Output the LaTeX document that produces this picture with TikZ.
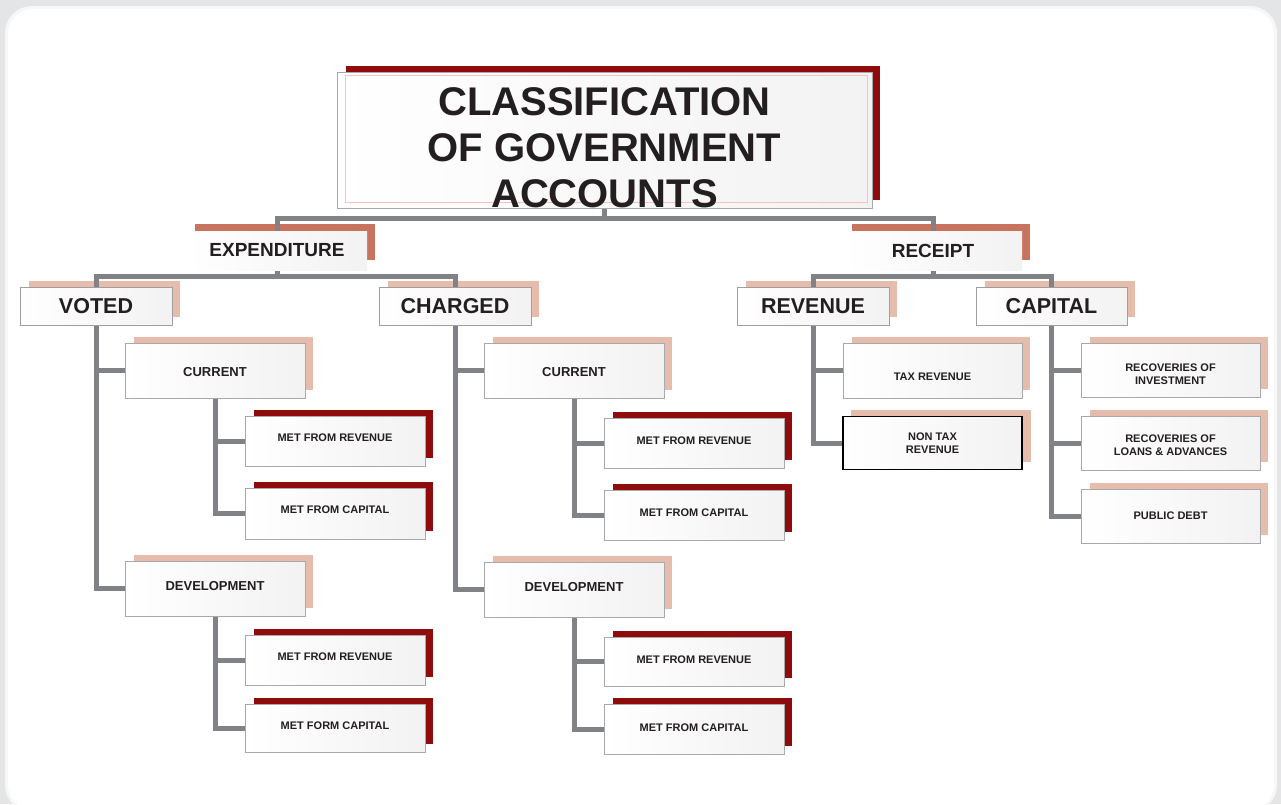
\documentclass[tikz,border=0pt]{standalone}
\usepackage{fontspec}
\setmainfont{Liberation Sans}
\usetikzlibrary{calc}
\pgfdeclarelayer{back}
\pgfdeclarelayer{shad}
\pgfdeclarelayer{lines}
\pgfsetlayers{back,shad,lines,main}
\definecolor{txt}{HTML}{231F20}
\definecolor{conncol}{HTML}{808285}
\definecolor{darkred}{HTML}{8E0C0C}
\definecolor{terra}{HTML}{C8735D}
\definecolor{salmon}{HTML}{E6BCAD}
\definecolor{boxline}{HTML}{A7A9AC}
\definecolor{outerbg}{HTML}{E4E5E6}
\newcommand\shadrect[2]{%
  \begin{pgfonlayer}{shad}
  \fill[#1] ([shift={(9,-6)}]#2.north west) rectangle ([shift={(8,-8)}]#2.south east);
  \end{pgfonlayer}}
\begin{document}
\begin{tikzpicture}[x=1pt,y=-1pt,
  every node/.style={text=txt,font=\bfseries,inner sep=0pt,align=center},
  box/.style={draw=boxline,line width=0.9pt,left color=white,right color=gray!10},
  titlebox/.style={box,minimum width=535pt,minimum height=136pt,text height=135pt,text depth=0pt,
     font=\fontsize{40}{46}\selectfont\bfseries,
     path picture={\draw[red!25,line width=0.6pt]
        ([shift={(8,3)}]path picture bounding box.north west) rectangle
        ([shift={(-5,-6)}]path picture bounding box.south east);}},
  headbox/.style={left color=white,right color=gray!10,minimum width=180pt,minimum height=39pt,
     font=\fontsize{19}{22}\selectfont\bfseries},
  lvtwo/.style={box,draw=gray!75,minimum width=152pt,minimum height=38pt,
     font=\fontsize{21.5}{24}\selectfont\bfseries},
  lvthree/.style={box,minimum width=180pt,minimum height=55pt,
     font=\fontsize{13}{15}\selectfont\bfseries},
  leaf/.style={box,minimum width=180pt,minimum height=50pt,
     font=\fontsize{11}{13}\selectfont\bfseries},
  metbox/.style={leaf,text depth=7pt},
  conn/.style={draw=conncol,line width=5pt}
]
\useasboundingbox (0,0) rectangle (1281,804);
\begin{pgfonlayer}{back}
\fill[outerbg] (0,0) rectangle (1281,804);
\fill[gray!6,rounded corners=27pt] (5,6) rectangle (1277,812);
\fill[white,rounded corners=25pt] (8,9) rectangle (1274,810);
\end{pgfonlayer}

% nodes
\node[titlebox] (title) at (604.5,140) {CLASSIFICATION\\OF GOVERNMENT\\ACCOUNTS};
\node[headbox] (exp) at (277,250.5) {EXPENDITURE};
\node[headbox,minimum width=178pt] (rec) at (933,250.5) {RECEIPT};

\node[lvtwo] (voted) at (96,306) {VOTED};
\node[lvtwo] (charged) at (455,306) {CHARGED};
\node[lvtwo] (revenue) at (813,306) {REVENUE};
\node[lvtwo,minimum width=151pt] (capital) at (1051.5,306) {CAPITAL};

\node[lvthree,text height=12pt,text depth=0pt] (vcur) at (215,370.5) {CURRENT};
\node[lvthree,text depth=6pt] (vdev) at (215,588.5) {DEVELOPMENT};
\node[metbox] (vcmr) at (335,441) {MET FROM REVENUE};
\node[metbox,minimum height=51pt] (vcmc) at (335,513.5) {MET FROM CAPITAL};
\node[metbox] (vdmr) at (335,660) {MET FROM REVENUE};
\node[metbox,minimum height=48pt,text depth=4pt] (vdmc) at (335,728) {MET FORM CAPITAL};

\node[lvthree,text height=12pt,text depth=0pt] (ccur) at (574,370.5) {CURRENT};
\node[lvthree,text depth=5pt] (cdev) at (574,589.5) {DEVELOPMENT};
\node[metbox,text depth=5pt] (ccmr) at (694,443) {MET FROM REVENUE};
\node[metbox,text depth=4pt] (ccmc) at (694,515) {MET FROM CAPITAL};
\node[metbox,minimum height=49pt,text depth=4pt] (cdmr) at (694,661.5) {MET FROM REVENUE};
\node[metbox,text depth=3pt] (cdmc) at (694,729) {MET FROM CAPITAL};

\node[leaf,minimum width=179pt,minimum height=55pt,text height=20pt,text depth=0pt] (tax) at (932.5,370.5) {TAX REVENUE};
\node[leaf,draw=black,line width=1.2pt,minimum width=179pt,minimum height=53pt] (nontax) at (932.5,443) {NON TAX\\REVENUE};
\node[leaf,minimum width=179pt,minimum height=54pt,text height=28pt,text depth=0pt] (rinv) at (1170.5,370) {RECOVERIES OF\\INVESTMENT};
\node[leaf,minimum width=179pt,minimum height=54pt,text height=24pt,text depth=0pt] (rloan) at (1170.5,443) {RECOVERIES OF\\LOANS \& ADVANCES};
\node[leaf,minimum width=179pt,minimum height=54pt] (pdebt) at (1170.5,516) {PUBLIC DEBT};

% shadows
\shadrect{darkred}{title}
\begin{pgfonlayer}{shad}
\fill[terra] ([shift={(8,-7)}]exp.north west) rectangle ([shift={(8,-10)}]exp.south east);
\fill[terra] ([shift={(8,-7)}]rec.north west) rectangle ([shift={(8,-10)}]rec.south east);
\end{pgfonlayer}
\foreach \n in {voted,charged,revenue,capital,vcur,vdev,ccur,cdev,tax,nontax,rinv,rloan,pdebt}{\shadrect{salmon}{\n}}
\foreach \n in {vcmr,vcmc,vdmr,vdmc,ccmr,ccmc,cdmr,cdmc}{\shadrect{darkred}{\n}}

% connectors
\begin{pgfonlayer}{lines}
\draw[conn] (title.south) -- ++(0,10) coordinate (tj);
\draw[conn] (tj) -| (exp.north);
\draw[conn] (tj) -| (rec.north);
\draw[conn] (exp.south) -- ++(0,6) coordinate (ej);
\draw[conn] (ej) -| (voted.north);
\draw[conn] (ej) -| (charged.north);
\draw[conn] (rec.south) -- ++(0,6) coordinate (rj);
\draw[conn] (rj) -| (revenue.north);
\draw[conn] (rj) -| (capital.north);
\draw[conn] (voted.south) |- (vcur.west);
\draw[conn] (voted.south) |- (vdev.west);
\draw[conn] (vcur.south) |- (vcmr.west);
\draw[conn] (vcur.south) |- (vcmc.west);
\draw[conn] (vdev.south) |- (vdmr.west);
\draw[conn] (vdev.south) |- (vdmc.west);
\draw[conn] (charged.south) |- (ccur.west);
\draw[conn] (charged.south) |- (cdev.west);
\draw[conn] (ccur.south) |- (ccmr.west);
\draw[conn] (ccur.south) |- (ccmc.west);
\draw[conn] (cdev.south) |- (cdmr.west);
\draw[conn] (cdev.south) |- (cdmc.west);
\draw[conn] (revenue.south) |- (tax.west);
\draw[conn] (revenue.south) |- (nontax.west);
\draw[conn] (capital.south) |- (rinv.west);
\draw[conn] (capital.south) |- (rloan.west);
\draw[conn] (capital.south) |- (pdebt.west);
\end{pgfonlayer}
\end{tikzpicture}
\end{document}
